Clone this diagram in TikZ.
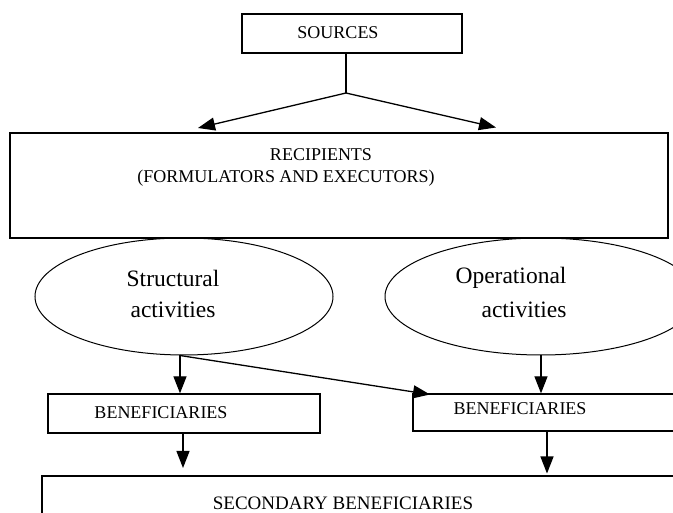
\documentclass[tikz,border=0pt]{standalone}
\usepackage{fontspec}
\setmainfont{Liberation Serif}
\usetikzlibrary{arrows.meta,shapes.geometric}
\begin{document}
\begin{tikzpicture}[x=1pt,y=-1pt,
  box/.style={draw,line width=1.3pt,rectangle,inner sep=0pt},
  oval/.style={draw,line width=1pt,ellipse,inner sep=0pt},
  txt/.style={inner sep=0pt,font=\fontsize{18}{21}\selectfont},
  etxt/.style={inner sep=0pt,font=\fontsize{23.5}{28}\selectfont},
  conn/.style={line width=1.3pt},
  arr/.style={line width=1.3pt,-{Triangle[length=17pt,width=13pt]}}]
\useasboundingbox (0,0) rectangle (673,513);
\fill[white] (0,0) rectangle (673,513);
\clip (0,0) rectangle (673,513);
% boxes
\node[box,minimum width=220pt,minimum height=39pt] (src) at (352,33.5) {};
\node[txt] (srct) at (338,33) {SOURCES};
\node[box,minimum width=658pt,minimum height=105pt] (rec) at (339,185.5) {};
\node[txt] (rect1) at (321,155) {RECIPIENTS};
\node[txt] (rect2) at (286,178) {(FORMULATORS AND EXECUTORS)};
\node[oval,minimum width=298pt,minimum height=117pt] (e1) at (184,296.5) {};
\node[etxt] (e1t1) at (173,278) {Structural};
\node[etxt] (e1t2) at (173,310) {activities};
\node[oval,minimum width=312pt,minimum height=117pt] (e2) at (541,296.5) {};
\node[etxt] (e2t1) at (511,278) {Operational};
\node[etxt] (e2t2) at (524,310) {activities};
\node[box,minimum width=272pt,minimum height=39pt] (b1) at (184,413.5) {};
\node[txt] (b1t) at (161,413) {BENEFICIARIES};
\node[box,minimum width=287pt,minimum height=37pt] (b2) at (556.5,412.5) {};
\node[txt] (b2t) at (520,409) {BENEFICIARIES};
\node[box,minimum width=658pt,minimum height=90pt] (sec) at (371,521) {};
\node[txt,font=\fontsize{19}{22}\selectfont] (sect) at (343,503) {SECONDARY BENEFICIARIES};
% connectors
\coordinate (J) at (346,93);
\coordinate (tl) at (198,128);
\coordinate (tr) at (496,127.5);
\draw[conn] (src.south -| J) -- (J);
\draw[arr] (J) -- (tl);
\draw[arr] (J) -- (tr);
\coordinate (s1) at (180,355.5);
\coordinate (d2) at (430,394.5);
\draw[arr] (s1) -- (s1 |- b1.north);
\draw[arr] (s1) -- (d2);
\coordinate (s2) at (541,355.5);
\draw[arr] (s2) -- (s2 |- b2.north);
\coordinate (o1) at (183,433);
\coordinate (t1) at (183,468);
\draw[arr] (o1) -- (t1);
\coordinate (o2) at (547,431);
\coordinate (t2) at (547,473.5);
\draw[arr] (o2) -- (t2);
\end{tikzpicture}
\end{document}
